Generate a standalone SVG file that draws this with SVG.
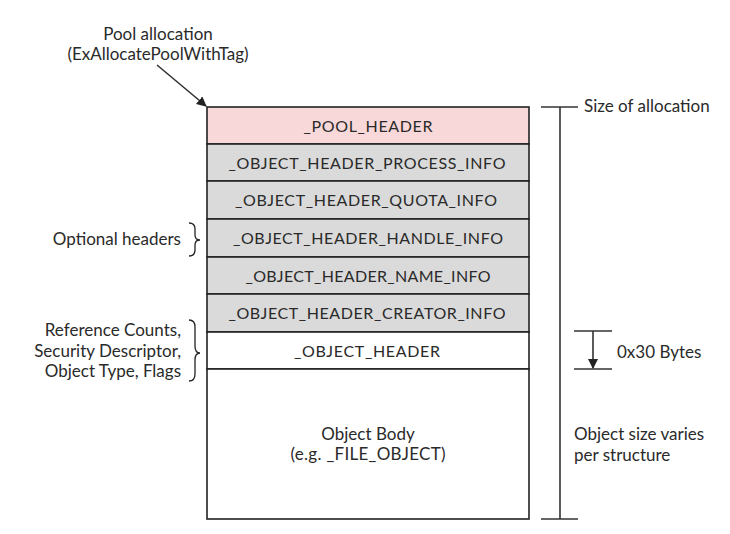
<svg xmlns="http://www.w3.org/2000/svg" width="730" height="534" viewBox="0 0 730 534">
<style>
text{font-family:Lato,"Open Sans",sans-serif;font-size:17px;fill:#2a2a2a}
.lab{font-size:16px}
.c{text-anchor:middle}
.r{text-anchor:end}
.row{stroke:#222;stroke-width:1.6}
.pink{fill:#f8d8d8}
.grey{fill:#dadada}
.white{fill:#ffffff}
.ln{stroke:#333;stroke-width:1.6;fill:none}
.br{stroke:#222;stroke-width:1.3;fill:none}
</style>
<defs>
<marker id="ah" markerWidth="10" markerHeight="10" refX="9" refY="5" orient="auto" markerUnits="userSpaceOnUse">
<path d="M0,0 L10,5 L0,10 z" fill="#222"/>
</marker>
</defs>
<rect width="730" height="534" fill="#fff"/>
<g id="pool_header"><rect class="row pink" x="207" y="107" width="322" height="37"/><text class="c lab" x="368" y="132" textLength="129" lengthAdjust="spacing">_POOL_HEADER</text></g>
<g id="process_info"><rect class="row grey" x="207" y="144" width="322" height="37"/><text class="c lab" x="367" y="169" textLength="277" lengthAdjust="spacing">_OBJECT_HEADER_PROCESS_INFO</text></g>
<g id="quota_info"><rect class="row grey" x="207" y="181" width="322" height="38"/><text class="c lab" x="366" y="206" textLength="262" lengthAdjust="spacing">_OBJECT_HEADER_QUOTA_INFO</text></g>
<g id="handle_info"><rect class="row grey" x="207" y="219" width="322" height="38"/><text class="c lab" x="368" y="244" textLength="270" lengthAdjust="spacing">_OBJECT_HEADER_HANDLE_INFO</text></g>
<g id="name_info"><rect class="row grey" x="207" y="257" width="322" height="37"/><text class="c lab" x="368" y="282" textLength="245" lengthAdjust="spacing">_OBJECT_HEADER_NAME_INFO</text></g>
<g id="creator_info"><rect class="row grey" x="207" y="294" width="322" height="38"/><text class="c lab" x="367" y="319" textLength="277" lengthAdjust="spacing">_OBJECT_HEADER_CREATOR_INFO</text></g>
<g id="object_header"><rect class="row white" x="207" y="332" width="322" height="37"/><text class="c lab" x="367" y="357" textLength="146" lengthAdjust="spacing">_OBJECT_HEADER</text></g>
<g id="object_body"><rect class="row white" x="207" y="369" width="322" height="150"/><text class="c" x="368" y="439.5">Object Body</text><text class="c" x="368" y="460" textLength="155" lengthAdjust="spacing">(e.g. _FILE_OBJECT)</text></g>
<g id="pool_allocation"><text class="c" x="158" y="39.5">Pool allocation</text><text class="c" x="158" y="60">(ExAllocatePoolWithTag)</text></g>
<g id="optional_headers"><text class="r" x="181" y="245">Optional headers</text><path class="br" d="M189,223 Q195,223 195,229 L195,235 Q195,240 200,240 Q195,240 195,245 L195,250 Q195,256 189,256"/></g>
<g id="ref_counts"><text class="r" x="181" y="336">Reference Counts,</text><text class="r" x="181" y="356.5">Security Descriptor,</text><text class="r" x="181" y="377">Object Type, Flags</text><path class="br" d="M189,320 Q195,320 195,327 L195,346 Q195,353 200,353 Q195,353 195,360 L195,374 Q195,381 189,381"/></g>
<g id="size_of_allocation"><text x="584" y="112">Size of allocation</text></g>
<g id="bytes_label"><text x="617" y="358">0x30 Bytes</text></g>
<g id="object_size"><text x="574" y="440">Object size varies</text><text x="574" y="460.5">per structure</text></g>
<g id="connectors">
<line class="ln" x1="157" y1="65" x2="206" y2="106" marker-end="url(#ah)"/>
<line class="ln" x1="541" y1="107" x2="578" y2="107"/>
<line class="ln" x1="560" y1="107" x2="560" y2="519"/>
<line class="ln" x1="541" y1="519" x2="578" y2="519"/>
<line class="ln" x1="574" y1="331" x2="612" y2="331"/>
<line class="ln" x1="574" y1="369" x2="612" y2="369"/>
<line class="ln" x1="593" y1="331" x2="593" y2="368" marker-end="url(#ah)"/>
</g>
</svg>
